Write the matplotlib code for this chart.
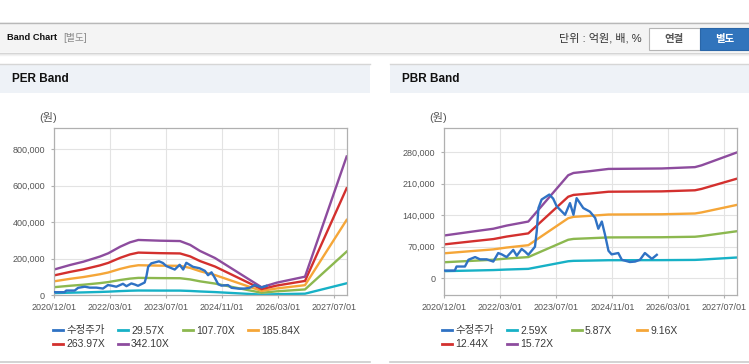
import matplotlib.pyplot as plt
import matplotlib.patches as mpatches
from matplotlib import font_manager
from matplotlib.lines import Line2D
from matplotlib.ticker import StrMethodFormatter

plt.rcParams['font.family'] = ['Liberation Sans', 'Noto Sans CJK KR']

# ---- data (x = position on the band chart's date axis) ----
date_labels = ['2020/12/01', '2022/03/01', '2023/07/01', '2024/11/01', '2026/03/01', '2027/07/01']
date_pos = [0, 16, 32, 48, 64, 80]

price_x = [0, 3, 3.5, 5.9, 6.9, 8.8, 10.2, 12.1, 14, 15.4, 16.4, 17.8, 19.7, 20.7, 22.1,
           23.1, 24, 25.9, 26.4, 26.9, 27.8, 30.0, 31.1, 32.1, 34.5, 35.9, 36.9, 37.8,
           39.7, 41.6, 43.1, 44, 45, 45.9, 46.9, 47.8, 49.7, 50.7, 53, 54.5, 55.9, 57.3,
           59.3, 60.7]
price = [17000, 17000, 26000, 26000, 41000, 47000, 42000, 42000, 37000, 56000, 53000,
         47000, 63000, 50000, 65000, 59000, 52000, 70000, 104000, 156000, 175000, 186000,
         177000, 160000, 141000, 167000, 141000, 178000, 156000, 148000, 134000, 110000,
         126000, 97000, 61000, 53000, 56000, 41000, 36000, 37000, 41000, 56000, 43000, 52000]

per_x = [0, 4.6, 8.4, 13.1, 15.5, 18.9, 21.7, 24.1, 30.3, 36, 38.9, 41.7, 46, 59.3, 63.6, 71.7, 83.6]
per_29 = [12200, 14300, 15900, 18300, 19900, 23000, 25100, 26200, 25800, 25700, 23800,
          21000, 17600, 3800, 6000, 8800, 65700]
per_107 = [44400, 52300, 57900, 66700, 72400, 83700, 91300, 95400, 94100, 93500, 86900,
           76500, 64200, 13900, 21700, 32100, 239200]
per_185 = [76600, 90200, 99900, 115200, 124900, 144500, 157500, 164600, 162400, 161300,
           149900, 132000, 110800, 23900, 37500, 55400, 412800]
per_263 = [108800, 128100, 142000, 163600, 177500, 205200, 223800, 233800, 230700, 229200,
           213000, 187500, 157400, 34000, 53200, 78700, 586400]
per_342 = [141000, 166000, 184000, 212000, 230000, 266000, 290000, 303000, 299000, 297000,
           276000, 243000, 204000, 44000, 69000, 102000, 760000]
per_labels = ['수정주가', '29.57X', '107.70X', '185.84X', '263.97X', '342.10X']

pbr_x = [0, 8.3, 14, 17.8, 24, 35.4, 36.9, 41.6, 46.9, 62.1, 71.6, 73.5, 83.7]
pbr_2 = [15700, 17100, 18100, 19300, 20800, 37700, 38600, 39200, 40000, 40200, 40700, 41400, 46100]
pbr_5 = [35500, 38800, 41100, 43700, 47000, 85500, 87400, 88900, 90700, 91100, 92200, 93700, 104600]
pbr_9 = [55400, 60600, 64100, 68200, 73400, 133400, 136400, 138700, 141600, 142200, 143900,
         146300, 163200]
pbr_12 = [75200, 82300, 87000, 92600, 99700, 181200, 185200, 188300, 192300, 193100, 195500,
          198600, 221600]
pbr_15 = [95000, 104000, 110000, 117000, 126000, 229000, 234000, 238000, 243000, 244000,
          247000, 251000, 280000]
pbr_labels = ['수정주가', '2.59X', '5.87X', '9.16X', '12.44X', '15.72X']

colors = ['#2f72c4', '#17b1c6', '#8cb84f', '#f5a638', '#d3302e', '#8d4c9e']

W, H = 749, 364
fig = plt.figure(figsize=(W / 100, H / 100), dpi=100)
fig.patch.set_facecolor('white')


def rect(x0, y0, x1, y1, fc, ec='none', lw=0):
    fig.add_artist(mpatches.Rectangle((x0 / W, 1 - y1 / H), (x1 - x0) / W, (y1 - y0) / H,
                                      transform=fig.transFigure, facecolor=fc,
                                      edgecolor=ec, linewidth=lw, zorder=0))


def hline(y, x0, x1, c, lw=1.0):
    fig.add_artist(Line2D([x0 / W, x1 / W], [1 - y / H, 1 - y / H], color=c, lw=lw,
                          transform=fig.transFigure, zorder=1))


def txt(x, y, s, **kw):
    fig.text(x / W, 1 - y / H, s, va='center', **kw)


names = {f.name for f in font_manager.fontManager.ttflist}
narrow = 'Liberation Sans Narrow' if 'Liberation Sans Narrow' in names else 'Liberation Sans'

# top header
rect(0, 22, W, 52, '#f4f4f4')
hline(22.5, 0, W, '#b8b8b8')
hline(52.5, 0, W, '#d2d2d2')
hline(53.5, 0, W, '#e6e6e6')
hline(54.5, 0, W, '#f2f2f2')
txt(7, 38, 'Band Chart', fontsize=8.2 if narrow != 'Liberation Sans' else 6.7,
    fontweight='bold', family=[narrow, 'Noto Sans CJK KR'], color='#111111')
txt(63, 38, '[별도]', fontsize=7, color='#8a8a8a')
txt(642, 38, '단위 : 억원, 배, %', fontsize=8, ha='right', color='#333333')
rect(648.5, 28.5, 700, 49.5, 'white', ec='#b5b5b5', lw=0.8)
rect(700, 28.5, W, 49.5, '#3174bc', ec='#2a66a8', lw=0.8)
txt(674, 39, '연결', fontsize=7.5, ha='center', fontweight='bold', color='#555555')
txt(725, 39, '별도', fontsize=7.5, ha='center', fontweight='bold', color='white')

# panels
for px0, px1, title in [(0, 370, 'PER Band'), (390, W, 'PBR Band')]:
    rect(px0, 64, px1, 93, '#eef2f7')
    hline(64, px0, px1, '#d6d6d6')
    hline(362, px0, px1, '#cccccc', lw=1.2)
    txt(px0 + 12, 79, title, fontsize=8.5, fontweight='bold', color='#111111')


def band_axes(left, xs, bands, ylim, yticks, unit_x):
    ax = fig.add_axes([left / W, 1 - 295.3 / H, 293 / W, 167.3 / H])
    lines = []
    for vals, c in zip(bands, colors[1:]):
        lines.append(ax.plot(xs, vals, color=c, lw=1.7, solid_joinstyle='round')[0])
    pl = ax.plot(price_x, price, color=colors[0], lw=1.7, solid_joinstyle='round', zorder=3)[0]
    ax.set_xlim(0, 83.7)
    ax.set_ylim(*ylim)
    ax.set_xticks(date_pos)
    ax.set_xticklabels(date_labels)
    ax.set_yticks(yticks)
    ax.yaxis.set_major_formatter(StrMethodFormatter('{x:,.0f}'))
    ax.grid(True, color='#e3e3e3', lw=0.8)
    ax.set_axisbelow(True)
    for s in ax.spines.values():
        s.set_color('#b0b0b0')
        s.set_linewidth(0.9)
    ax.tick_params(length=2.5, width=0.8, color='#b0b0b0', labelsize=6.5,
                   labelcolor='#555555')
    ax.tick_params(axis='y', pad=4)
    ax.tick_params(axis='x', pad=3)
    txt(unit_x, 118, '(원)', fontsize=8, ha='center', color='#555555')
    return [pl] + lines


def legends(handles, labels, x0):
    cols = [[0, 4], [1, 5], [2], [3]]
    for i, idx in enumerate(cols):
        lg = fig.legend([handles[k] for k in idx], [labels[k] for k in idx],
                        loc='upper left', bbox_to_anchor=((x0 + 65 * i) / W, 1 - 325.5 / H),
                        bbox_transform=fig.transFigure, frameon=False, borderpad=0,
                        borderaxespad=0, handlelength=0.95, handletextpad=0.3,
                        labelspacing=0.38, fontsize=7.5)
        for t in lg.get_texts():
            t.set_color('#3a3a3a')
        for h in lg.legend_handles:
            h.set_linewidth(2)


h1 = band_axes(54, per_x, [per_29, per_107, per_185, per_263, per_342], (0, 916000),
               [0, 200000, 400000, 600000, 800000], 48)
legends(h1, per_labels, 53)

h2 = band_axes(444.3, pbr_x, [pbr_2, pbr_5, pbr_9, pbr_12, pbr_15], (-38000, 334000),
               [0, 70000, 140000, 210000, 280000], 438)
legends(h2, pbr_labels, 442)

fig.savefig('out.png', dpi=100, facecolor='white')
